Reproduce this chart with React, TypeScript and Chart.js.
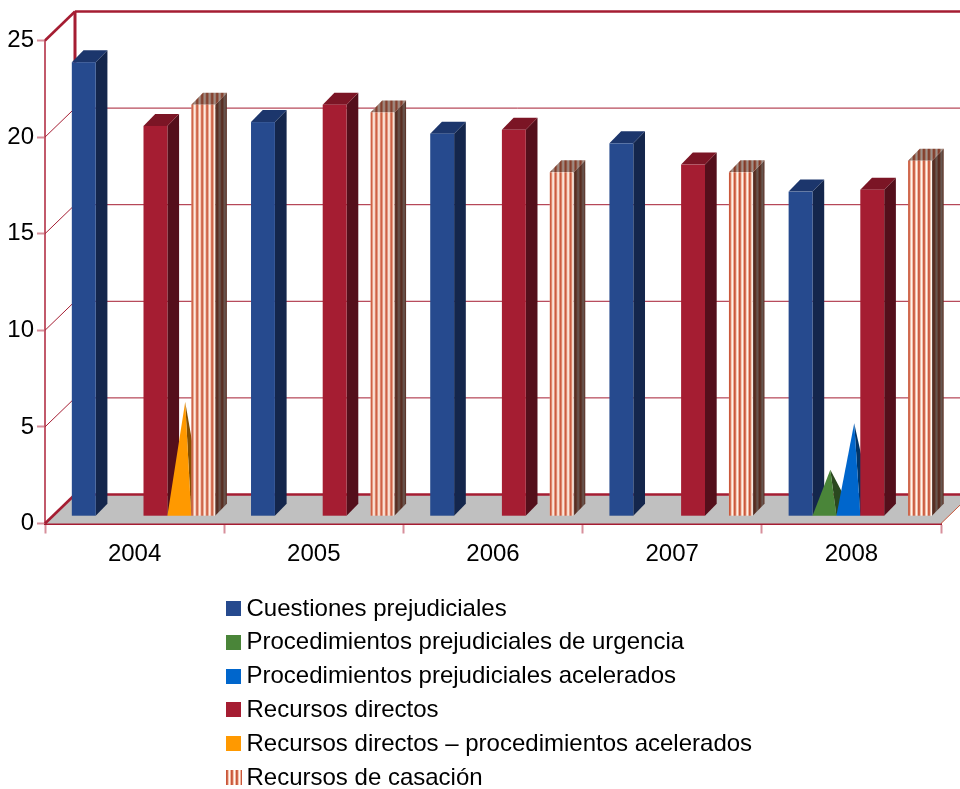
import React, { useEffect, useRef } from "react";
import { Chart, registerables } from "chart.js";

Chart.register(...registerables);

const years = ["2004", "2005", "2006", "2007", "2008"];
const cuestiones = [23.5, 20.4, 19.8, 19.3, 16.8];
const urgencia = [null, null, null, null, 2.1];
const acelerados = [null, null, null, null, 4.5];
const directos = [20.2, 21.3, 20.0, 18.2, 16.9];
const directosAcel = [5.6, null, null, null, null];
const casacion = [21.3, 20.9, 17.8, 17.8, 18.4];

const RED = "#a51d32";
const FONT = '"Liberation Sans", Arial, sans-serif';

const stripe = (ctx: CanvasRenderingContext2D, dark: number, originX: number) => {
  const c = document.createElement("canvas");
  c.width = 5;
  c.height = 1;
  const g = c.getContext("2d")!;
  const cols = ["#c9563a", "#d26c50", "#f4c6b0", "#fff8f4", "#f0b8a0"];
  cols.forEach((col, i) => {
    g.fillStyle = col;
    g.fillRect(i, 0, 1, 1);
  });
  if (dark > 0) {
    g.fillStyle = `rgba(45,25,20,${dark})`;
    g.fillRect(0, 0, 5, 1);
  }
  const p = ctx.createPattern(c, "repeat")!;
  p.setTransform(new DOMMatrix().translate(originX, 0));
  return p;
};

const poly = (ctx: CanvasRenderingContext2D, pts: number[][], fill: any) => {
  ctx.fillStyle = fill;
  ctx.beginPath();
  pts.forEach((p, i) => (i ? ctx.lineTo(p[0], p[1]) : ctx.moveTo(p[0], p[1])));
  ctx.closePath();
  ctx.fill();
};

const line = (ctx: CanvasRenderingContext2D, a: number[], b: number[], color: string, w: number) => {
  ctx.strokeStyle = color;
  ctx.lineWidth = w;
  ctx.beginPath();
  ctx.moveTo(a[0], a[1]);
  ctx.lineTo(b[0], b[1]);
  ctx.stroke();
};

// depth of the 3D box and placement of bars within it
const WALL_DX = 30;
const WALL_DY = 29;
const BAR_DX = 8.9;
const BAR_DY = 7.3;
const SIDE_DX = 11.7;
const SIDE_DY = 12;

const depth3d = {
  id: "depth3d",
  beforeDatasetsDraw(chart: any) {
    const { ctx, scales, chartArea } = chart;
    const y = scales.y;
    const { left, right, top, bottom } = chartArea;
    const W = chart.width;
    ctx.save();
    // floor
    poly(ctx, [[left, bottom], [left + WALL_DX, bottom - WALL_DY], [right + WALL_DX, bottom - WALL_DY], [right, bottom]], "#c0c0c0");
    // grid lines: diagonal on the side wall, horizontal on the back wall
    y.ticks.forEach((t: any) => {
      const py = y.getPixelForValue(t.value);
      if (t.value === 0) return;
      const isTop = t.value === y.max;
      line(ctx, [left, py], [left + WALL_DX, py - WALL_DY], RED, isTop ? 2.6 : 1);
      line(ctx, [left + WALL_DX, py - WALL_DY], [W, py - WALL_DY], RED, isTop ? 2.6 : 1);
    });
    // walls
    line(ctx, [left + WALL_DX, top - WALL_DY], [left + WALL_DX, bottom - WALL_DY], RED, 3);
    line(ctx, [left + WALL_DX, bottom - WALL_DY], [W, bottom - WALL_DY], RED, 2.6);
    line(ctx, [left, bottom], [left + WALL_DX, bottom - WALL_DY], RED, 2.6);
    line(ctx, [right, bottom], [W, bottom - 18.4], "#c8583a", 1);

    // marks, slot by slot, left to right
    const count = chart.data.labels.length;
    for (let c = 0; c < count; c++) {
      chart.data.datasets.forEach((ds: any, di: number) => {
        const el = chart.getDatasetMeta(di).data[c];
        if (!el || el.skip || ds.data[c] == null) return;
        const { x, y: ey, base, width } = el.getProps(["x", "y", "base", "width"], true);
        const l = x - width / 2 + BAR_DX;
        const r = x + width / 2 + BAR_DX;
        const t = ey - BAR_DY;
        const b = base - BAR_DY;
        const st = ds.shape3d;
        if (st.cone) {
          const apex = [(l + r) / 2 + SIDE_DX / 2, t - SIDE_DY / 2];
          poly(ctx, [[r, b], [r + SIDE_DX, b - SIDE_DY], apex], st.side);
          poly(ctx, [[l, b], [r, b], apex], st.front);
        } else {
          poly(ctx, [[r, t], [r + SIDE_DX, t - SIDE_DY], [r + SIDE_DX, b - SIDE_DY], [r, b]],
            st.pattern ? stripe(ctx, 0.72, l) : st.side);
          poly(ctx, [[l, t], [l + SIDE_DX, t - SIDE_DY], [r + SIDE_DX, t - SIDE_DY], [r, t]],
            st.pattern ? stripe(ctx, 0.45, l) : st.top);
          ctx.fillStyle = st.pattern ? stripe(ctx, 0, l) : st.front;
          ctx.fillRect(l, t, r - l, b - t);
        }
      });
    }
    ctx.restore();
    return false;
  },
  afterDraw(chart: any) {
    const { ctx } = chart;
    ctx.save();
    ctx.font = `24px ${FONT}`;
    ctx.textBaseline = "middle";
    ctx.textAlign = "left";
    chart.data.datasets.forEach((ds: any, i: number) => {
      const cy = 609 + i * 33.8;
      ctx.fillStyle = ds.shape3d.pattern ? stripe(ctx, 0, 226) : ds.backgroundColor;
      ctx.fillRect(226, Math.round(cy - 8), ds.shape3d.pattern ? 16 : 15, 15);
      ctx.fillStyle = "#000";
      ctx.fillText(ds.label, 246.5, cy);
    });
    ctx.restore();
  },
};

const makeDs = (label: string, data: any[], color: string, shape3d: any) => ({
  label,
  data,
  backgroundColor: color,
  shape3d,
  barPercentage: 1,
  categoryPercentage: 0.8,
});

export default function App() {
  const ref = useRef<HTMLCanvasElement>(null);
  useEffect(() => {
    document.body.style.margin = "0";
    const chart = new Chart(ref.current!, {
      type: "bar",
      data: {
        labels: years,
        datasets: [
          makeDs("Cuestiones prejudiciales", cuestiones, "#264a8e", { front: "#264a8e", top: "#1c366c", side: "#14264c" }),
          makeDs("Procedimientos prejudiciales de urgencia", urgencia, "#4a8539", { cone: true, front: "#4a8539", side: "#2a481f" }),
          makeDs("Procedimientos prejudiciales acelerados", acelerados, "#0066cc", { cone: true, front: "#0066cc", side: "#003468" }),
          makeDs("Recursos directos", directos, RED, { front: RED, top: "#7b1525", side: "#540f1b" }),
          makeDs("Recursos directos – procedimientos acelerados", directosAcel, "#ff9900", { cone: true, front: "#ff9900", side: "#855000" }),
          makeDs("Recursos de casación", casacion, "#d9775a", { pattern: true }),
        ],
      } as any,
      options: {
        responsive: false,
        animation: false,
        layout: { padding: { left: 0, right: 19, top: 40.5, bottom: 0 } },
        plugins: { legend: { display: false }, tooltip: { enabled: false } },
        scales: {
          x: {
            grid: {
              offset: true,
              drawOnChartArea: false,
              tickLength: 10,
              tickWidth: 2,
              tickColor: "#d78f9b",
            },
            border: { color: RED, width: 2 },
            ticks: { color: "#000", padding: 6, font: { size: 24, family: FONT } },
            afterFit: (s: any) => {
              s.height = 265.5;
            },
          },
          y: {
            min: 0,
            max: 25,
            grid: {
              drawOnChartArea: false,
              tickLength: 8,
              tickWidth: 2,
              tickColor: "#d78f9b",
            },
            border: { color: "#c25a6b", width: 2 },
            ticks: { stepSize: 5, color: "#000", padding: 3, font: { size: 24, family: FONT } },
            afterFit: (s: any) => {
              s.width = 45;
            },
          },
        },
      } as any,
      plugins: [depth3d],
    });
    return () => chart.destroy();
  }, []);
  return (
    <div style={{ position: "absolute", left: 0, top: 0, width: 960, height: 789, overflow: "hidden", background: "#fff" }}>
      <canvas ref={ref} width={960} height={789} style={{ display: "block" }} />
    </div>
  );
}
